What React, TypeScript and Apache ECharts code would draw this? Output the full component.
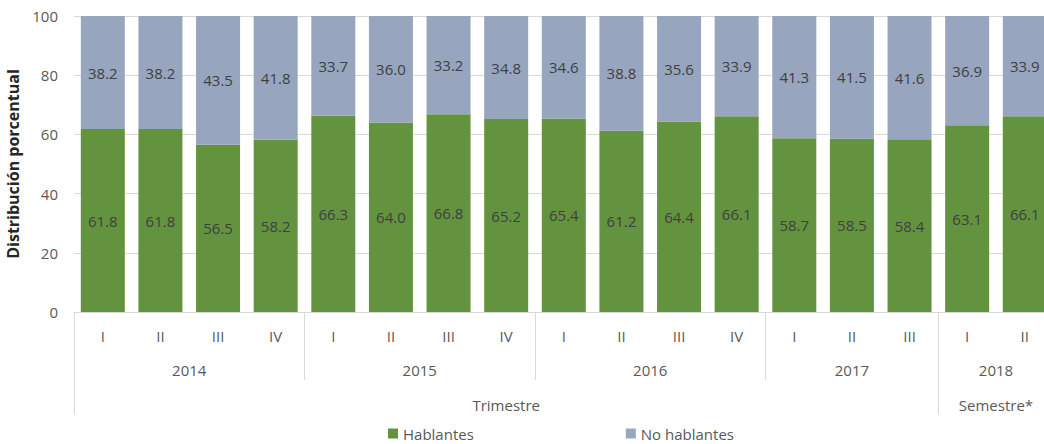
import React, { useEffect, useRef } from "react";
import * as echarts from "echarts";

const quarters = ["I", "II", "III", "IV", "I", "II", "III", "IV", "I", "II", "III", "IV", "I", "II", "III", "I", "II"];
const years = ["2014", "2015", "2016", "2017", "2018"];
const yearSizes = [4, 4, 4, 3, 2];
const periodNames = ["Trimestre", "Semestre*"];
const periodSizes = [15, 2];
const hablantes = [61.8, 61.8, 56.5, 58.2, 66.3, 64.0, 66.8, 65.2, 65.4, 61.2, 64.4, 66.1, 58.7, 58.5, 58.4, 63.1, 66.1];
const noHablantes = [38.2, 38.2, 43.5, 41.8, 33.7, 36.0, 33.2, 34.8, 34.6, 38.8, 35.6, 33.9, 41.3, 41.5, 41.6, 36.9, 33.9];
const yTicks = [0, 20, 40, 60, 80, 100];

const FONT = "'Open Sans', sans-serif";
const GREEN = "#63933F";
const BLUE = "#97A6BE";
const LINE = "#D9D9D9";

function groupBounds(sizes: number[]) {
  const bounds: number[] = [0];
  const centers: number[] = [];
  let acc = 0;
  sizes.forEach((s) => {
    centers.push(acc + s / 2);
    acc += s;
    bounds.push(acc);
  });
  return { bounds, centers };
}

export default function App() {
  const ref = useRef<HTMLDivElement>(null);
  useEffect(() => {
    if (!ref.current) return;
    const chart = echarts.init(ref.current, null, { renderer: "svg" });
    const keys = quarters.map((q, i) => `${i}|${q}`);
    const yg = groupBounds(yearSizes);
    const pg = groupBounds(periodSizes);
    const n = quarters.length;
    const yearBounds = yg.bounds.slice(0, -1);
    const periodBounds = pg.bounds.slice(0, -1);
    const labelStyle = { color: "#595959", fontFamily: FONT, fontSize: 15 };
    const dataLabel = {
      show: true,
      position: "inside" as const,
      color: "#404040",
      fontFamily: FONT,
      fontSize: 15,
      formatter: (p: any) => Number(p.value).toFixed(1),
    };
    chart.setOption({
      animation: false,
      textStyle: { fontFamily: FONT },
      grid: {
        left: 74,
        right: -9.6,
        top: 16,
        bottom: 132,
        containLabel: false,
        outerBoundsMode: "none",
      },
      legend: {
        left: 383,
        top: 421,
        icon: "rect",
        itemWidth: 10,
        itemHeight: 10,
        itemGap: 152,
        textStyle: { color: "#595959", fontFamily: FONT, fontSize: 15 },
        data: ["Hablantes", "No hablantes"],
      },
      xAxis: [
        {
          type: "category",
          data: keys,
          position: "bottom",
          axisLine: { show: true, lineStyle: { color: LINE, width: 1 } },
          axisTick: { show: false },
          axisLabel: {
            ...labelStyle,
            margin: 16,
            interval: 0,
            formatter: (v: string) => v.split("|")[1],
          },
        },
        {
          type: "value",
          min: 0,
          max: n,
          position: "bottom",
          offset: 0,
          splitLine: { show: false },
          axisLine: { show: false },
          axisTick: {
            show: true,
            customValues: yearBounds,
            length: 68,
            lineStyle: { color: LINE, width: 1 },
          },
          axisLabel: {
            ...labelStyle,
            margin: 50,
            customValues: yg.centers,
            formatter: (v: number) => {
              const i = yg.centers.findIndex((c) => Math.abs(c - v) < 1e-6);
              return i >= 0 ? years[i] : "";
            },
          },
        },
        {
          type: "value",
          min: 0,
          max: n,
          position: "bottom",
          offset: 0,
          splitLine: { show: false },
          axisLine: { show: false },
          axisTick: {
            show: true,
            customValues: periodBounds,
            length: 103,
            lineStyle: { color: LINE, width: 1 },
          },
          axisLabel: {
            ...labelStyle,
            margin: 85,
            customValues: pg.centers,
            formatter: (v: number) => {
              const i = pg.centers.findIndex((c) => Math.abs(c - v) < 1e-6);
              return i >= 0 ? periodNames[i] : "";
            },
          },
        },
      ],
      yAxis: {
        type: "value",
        min: 0,
        max: 100,
        interval: 20,
        name: "Distribución porcentual",
        nameLocation: "middle",
        nameRotate: 90,
        nameGap: 52,
        nameTextStyle: { color: "#262626", fontFamily: FONT, fontSize: 16, fontWeight: "bold" },
        axisLine: { show: false },
        axisTick: { show: false },
        splitLine: { lineStyle: { color: LINE, width: 1 } },
        axisLabel: { ...labelStyle, margin: 16, customValues: yTicks },
      },
      series: [
        {
          name: "Hablantes",
          type: "bar",
          stack: "total",
          xAxisIndex: 0,
          barWidth: 44,
          itemStyle: { color: GREEN },
          label: dataLabel,
          data: hablantes,
        },
        {
          name: "No hablantes",
          type: "bar",
          stack: "total",
          xAxisIndex: 0,
          barWidth: 44,
          itemStyle: { color: BLUE },
          label: dataLabel,
          data: noHablantes,
        },
      ],
    });
    return () => chart.dispose();
  }, []);
  return (
    <div
      ref={ref}
      style={{ position: "absolute", left: 0, top: 0, width: 1044, height: 444 }}
    />
  );
}
